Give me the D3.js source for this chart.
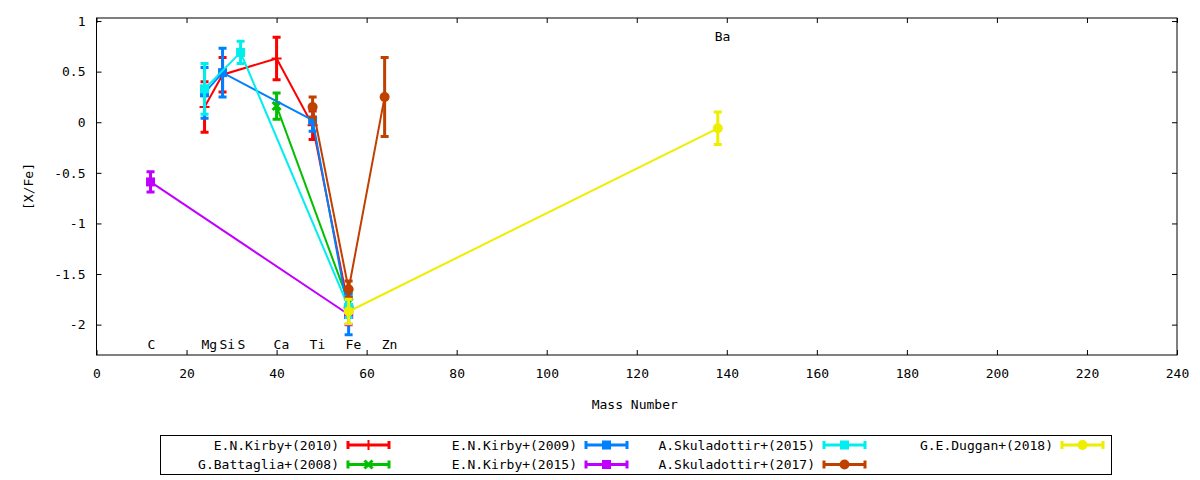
<!DOCTYPE html>
<html>
<head>
<meta charset="utf-8">
<script src="https://cdn.jsdelivr.net/npm/d3@7"></script>
<style>
  body { margin: 0; background: #fff; }
  svg { display: block; font-family: "DejaVu Sans Mono", monospace; font-size: 13px; }
  .tick line { stroke: #000; }
  .tick text { fill: #000; }
</style>
</head>
<body>
<svg width="1200" height="480"></svg>
<script>
// [mass number, value, error]
const kirby2010 = [[24, 0.15, 0.25], [28, 0.47, 0.17], [40, 0.63, 0.21], [48, -0.03, 0.14], [56, -1.83, 0.1]];
const battaglia2008 = [[40, 0.16, 0.13], [56, -1.78, 0.1]];
const kirby2009 = [[24, 0.29, 0.25], [28, 0.49, 0.24], [48, 0.02, 0.11], [56, -1.9, 0.2]];
const kirby2015 = [[12, -0.59, 0.1], [56, -1.9, 0.1]];
const skuladottir2015 = [[24, 0.33, 0.25], [32, 0.69, 0.11], [56, -1.83, 0.1]];
const skuladottir2017 = [[48, 0.15, 0.1], [56, -1.65, 0.08], [64, 0.25, 0.39]];
const duggan2018 = [[56, -1.87, 0.12], [138, -0.06, 0.16]];

const seriesNames = ['E.N.Kirby+(2010)', 'G.Battaglia+(2008)', 'E.N.Kirby+(2009)', 'E.N.Kirby+(2015)',
    'A.Skuladottir+(2015)', 'A.Skuladottir+(2017)', 'G.E.Duggan+(2018)'];
const seriesData = [kirby2010, battaglia2008, kirby2009, kirby2015, skuladottir2015, skuladottir2017, duggan2018];
const seriesColors = ['#ff0000', '#00c000', '#0080ff', '#c000ff', '#00eeee', '#c04000', '#eeee00'];
const seriesMarkers = ['plus', 'cross', 'square', 'square', 'square', 'circle', 'circle'];

// element labels
const elemNames = ['C', 'Mg', 'Si', 'S', 'Ca', 'Ti', 'Fe', 'Zn', 'Ba'];
const elemMass = [12, 24, 28, 32, 40, 48, 56, 64, 138];
const elemY = [-2.2, -2.2, -2.2, -2.2, -2.2, -2.2, -2.2, -2.2, 0.85];

const xTicks = d3.range(0, 241, 20);
const yTicks = [-2, -1.5, -1, -0.5, 0, 0.5, 1];

const svg = d3.select('svg');
const plotLeft = 96.5, plotRight = 1177, plotTop = 18, plotBottom = 355;

const x = d3.scaleLinear().domain([0, 240]).range([plotLeft, plotRight]);
const y = d3.scaleLinear().domain([-2.3, 1.03]).range([plotBottom, plotTop]);

// axes (ticks point inwards, mirrored on top / right)
svg.append('g')
    .attr('transform', `translate(0,${plotBottom})`)
    .call(d3.axisBottom(x).tickValues(xTicks).tickSize(-5).tickSizeOuter(0).tickPadding(14).tickFormat(d => String(d)))
    .call(g => g.select('.domain').remove())
    .selectAll('text').attr('font-size', 13).attr('font-family', '"DejaVu Sans Mono", monospace');

svg.append('g')
    .attr('transform', `translate(0,${plotTop})`)
    .call(d3.axisTop(x).tickValues(xTicks).tickSize(-5).tickSizeOuter(0).tickFormat(''))
    .call(g => g.select('.domain').remove());

svg.append('g')
    .attr('transform', `translate(${plotLeft},0)`)
    .call(d3.axisLeft(y).tickValues(yTicks).tickSize(-5).tickSizeOuter(0).tickPadding(11).tickFormat(d => String(d)))
    .call(g => g.select('.domain').remove())
    .selectAll('text').attr('font-size', 13).attr('font-family', '"DejaVu Sans Mono", monospace');

svg.append('g')
    .attr('transform', `translate(${plotRight},0)`)
    .call(d3.axisRight(y).tickValues(yTicks).tickSize(-5).tickSizeOuter(0).tickFormat(''))
    .call(g => g.select('.domain').remove());

svg.append('rect')
    .attr('x', plotLeft).attr('y', plotTop)
    .attr('width', plotRight - plotLeft).attr('height', plotBottom - plotTop)
    .attr('fill', 'none').attr('stroke', '#000').attr('stroke-width', 1);

// axis titles
svg.append('text')
    .attr('x', (plotLeft + plotRight) / 2 - 2).attr('y', 409)
    .attr('text-anchor', 'middle')
    .text('Mass Number');

svg.append('text')
    .attr('transform', `translate(33,${(plotTop + plotBottom) / 2}) rotate(-90)`)
    .attr('text-anchor', 'middle')
    .text('[X/Fe]');

// element labels
svg.append('g')
    .selectAll('text')
    .data(elemNames)
    .join('text')
    .attr('x', (d, i) => x(elemMass[i]) - 3)
    .attr('y', (d, i) => y(elemY[i]))
    .attr('dy', '0.35em')
    .text(d => d);

function drawMarker(g, type, cx, cy, color) {
    if (type === 'plus') {
        g.append('path')
            .attr('d', `M${cx - 5},${cy}H${cx + 5}M${cx},${cy - 5}V${cy + 5}`)
            .attr('stroke', color).attr('stroke-width', 2).attr('fill', 'none');
    } else if (type === 'cross') {
        g.append('path')
            .attr('d', `M${cx - 4},${cy - 4}L${cx + 4},${cy + 4}M${cx - 4},${cy + 4}L${cx + 4},${cy - 4}`)
            .attr('stroke', color).attr('stroke-width', 3).attr('fill', 'none');
    } else if (type === 'square') {
        g.append('rect')
            .attr('x', cx - 4.5).attr('y', cy - 4.5)
            .attr('width', 9).attr('height', 9)
            .attr('fill', color);
    } else {
        g.append('circle')
            .attr('cx', cx).attr('cy', cy).attr('r', 5)
            .attr('fill', color);
    }
}

const line = d3.line().x(d => x(d[0])).y(d => y(d[1]));
const plot = svg.append('g');

seriesData.forEach((data, i) => {
    const color = seriesColors[i];
    const g = plot.append('g');

    g.append('path')
        .datum(data)
        .attr('d', line)
        .attr('fill', 'none')
        .attr('stroke', color)
        .attr('stroke-width', 2);

    data.forEach(d => {
        const px = x(d[0]);
        const y1 = y(d[1] + d[2]), y2 = y(d[1] - d[2]);
        g.append('path')
            .attr('d', `M${px},${y1}V${y2}M${px - 4},${y1}H${px + 4}M${px - 4},${y2}H${px + 4}`)
            .attr('stroke', color)
            .attr('stroke-width', 3)
            .attr('fill', 'none');
        drawMarker(g, seriesMarkers[i], px, y(d[1]), color);
    });
});

// legend, filled column by column
svg.append('rect')
    .attr('x', 160.5).attr('y', 435.5)
    .attr('width', 951).attr('height', 39)
    .attr('fill', 'none').attr('stroke', '#000');

const legend = svg.append('g');
seriesNames.forEach((name, i) => {
    const col = Math.floor(i / 2), row = i % 2;
    const sx = 347 + 238 * col, sy = 445 + 19.5 * row;
    const color = seriesColors[i];
    legend.append('text')
        .attr('x', sx - 8).attr('y', sy)
        .attr('dy', '0.35em')
        .attr('text-anchor', 'end')
        .text(name);
    legend.append('path')
        .attr('d', `M${sx},${sy}H${sx + 43}M${sx + 1},${sy - 4}V${sy + 4}M${sx + 42},${sy - 4}V${sy + 4}`)
        .attr('stroke', color)
        .attr('stroke-width', 3)
        .attr('fill', 'none');
    drawMarker(legend, seriesMarkers[i], sx + 21.5, sy, color);
});
</script>
</body>
</html>
